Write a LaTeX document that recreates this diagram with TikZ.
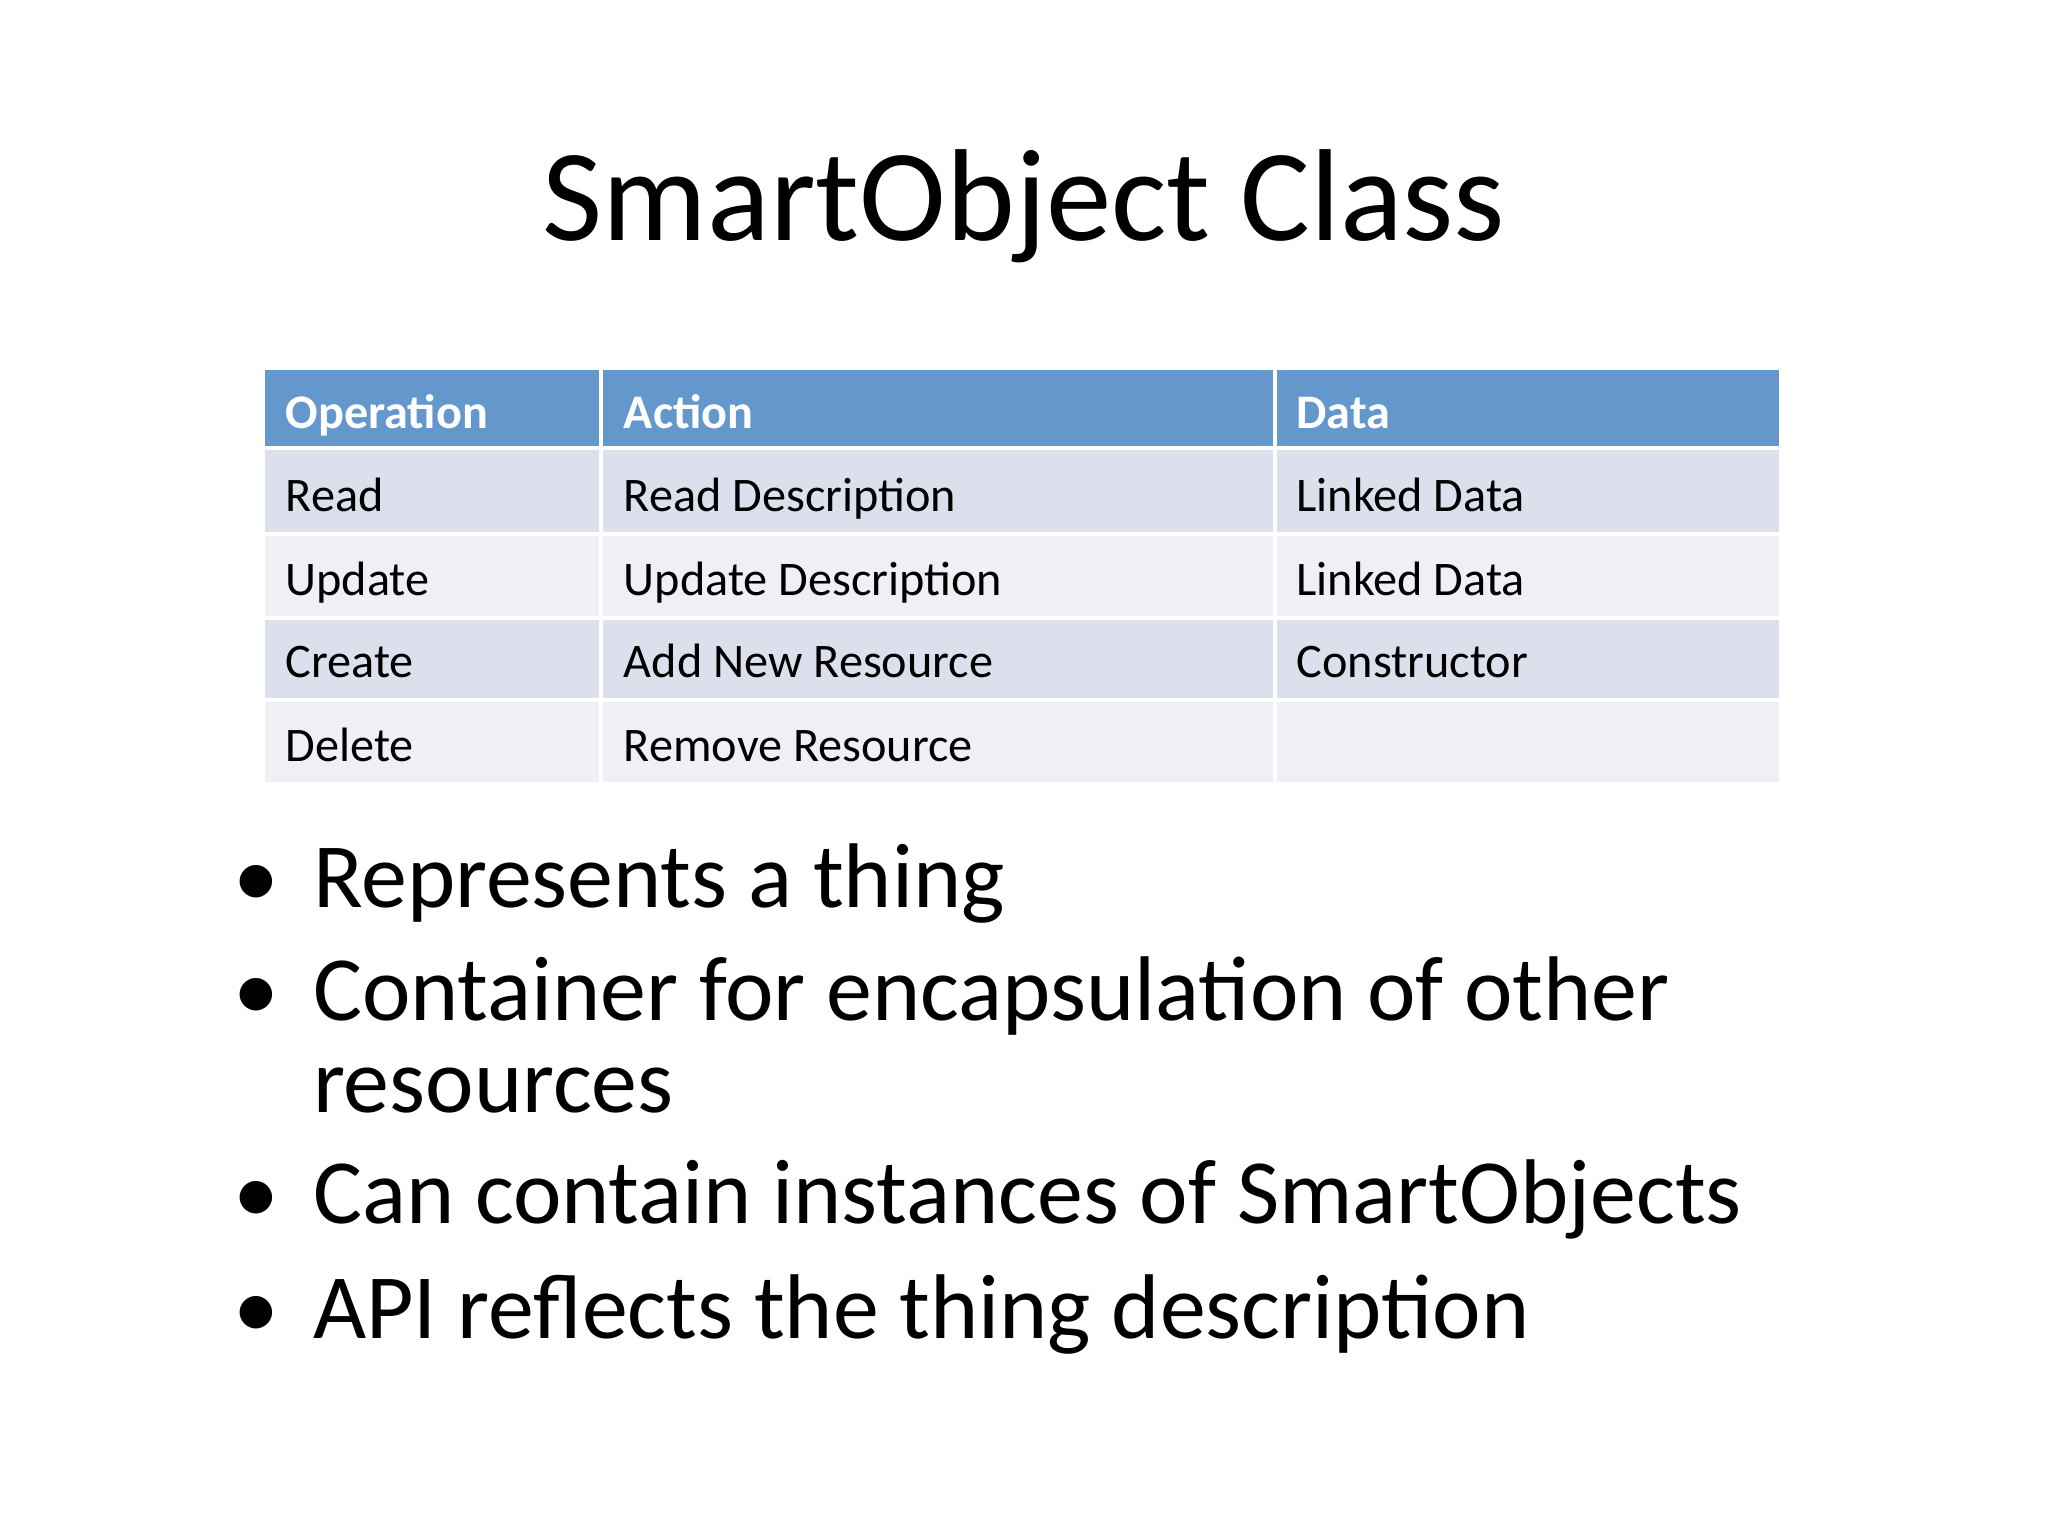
\documentclass[tikz,border=0pt]{standalone}
\usepackage{fontspec}
\setmainfont{Carlito}
\definecolor{hdr}{HTML}{6497CC}
\definecolor{rowa}{HTML}{DCE0EC}
\definecolor{rowb}{HTML}{EEF0F5}
\begin{document}
\begin{tikzpicture}[x=0.01cm,y=-0.01cm,
  cell/.style={anchor=base west,inner sep=0pt,font=\fontsize{10.5}{12}\selectfont},
  hcell/.style={cell,text=white,font=\fontsize{10.5}{12}\selectfont\bfseries},
  bul/.style={anchor=base west,inner sep=0pt,font=\fontsize{20}{24}\selectfont}]
\useasboundingbox (0,0) rectangle (1568,1176);
\node[anchor=base,inner sep=0pt,font=\fontsize{28.5}{32}\selectfont] (title) at (784,184) {SmartObject Class};
% table backgrounds
\fill[hdr] (203,283) rectangle (1362,343);
\fill[rowa] (203,343) rectangle (1362,409);
\fill[rowb] (203,409) rectangle (1362,473);
\fill[rowa] (203,473) rectangle (1362,536);
\fill[rowb] (203,536) rectangle (1362,599);
\foreach \y in {343,409,473,536} \draw[white,line width=0.9pt] (203,\y) -- (1362,\y);
\draw[white,line width=0.9pt] (460,283) -- (460,599);
\draw[white,line width=0.9pt] (976,283) -- (976,599);
\node[hcell] (h1) at (218,328) {Operation};
\node[hcell] (h2) at (477,328) {Action};
\node[hcell] (h3) at (992,328) {Data};
\node[cell] (r1a) at (218,392) {Read};
\node[cell] (r1b) at (477,392) {Read Description};
\node[cell] (r1c) at (992,392) {Linked Data};
\node[cell] (r2a) at (218,456) {Update};
\node[cell] (r2b) at (477,456) {Update Description};
\node[cell] (r2c) at (992,456) {Linked Data};
\node[cell] (r3a) at (218,519) {Create};
\node[cell] (r3b) at (477,519) {Add New Resource};
\node[cell] (r3c) at (992,519) {Constructor};
\node[cell] (r4a) at (218,583) {Delete};
\node[cell] (r4b) at (477,583) {Remove Resource};
% bullets
\foreach \y/\n in {695/b1,781/b2,937/b3,1025/b4} \node[bul] (d\n) at (178,\y) {•};
\node[bul] (b1) at (239,695) {Represents a thing};
\node[bul] (b2) at (239,781) {Container for encapsulation of other};
\node[bul] (b2b) at (239,852) {resources};
\node[bul] (b3) at (239,937) {Can contain instances of SmartObjects};
\node[bul] (b4) at (239,1025) {API reflects the thing description};
\end{tikzpicture}
\end{document}
